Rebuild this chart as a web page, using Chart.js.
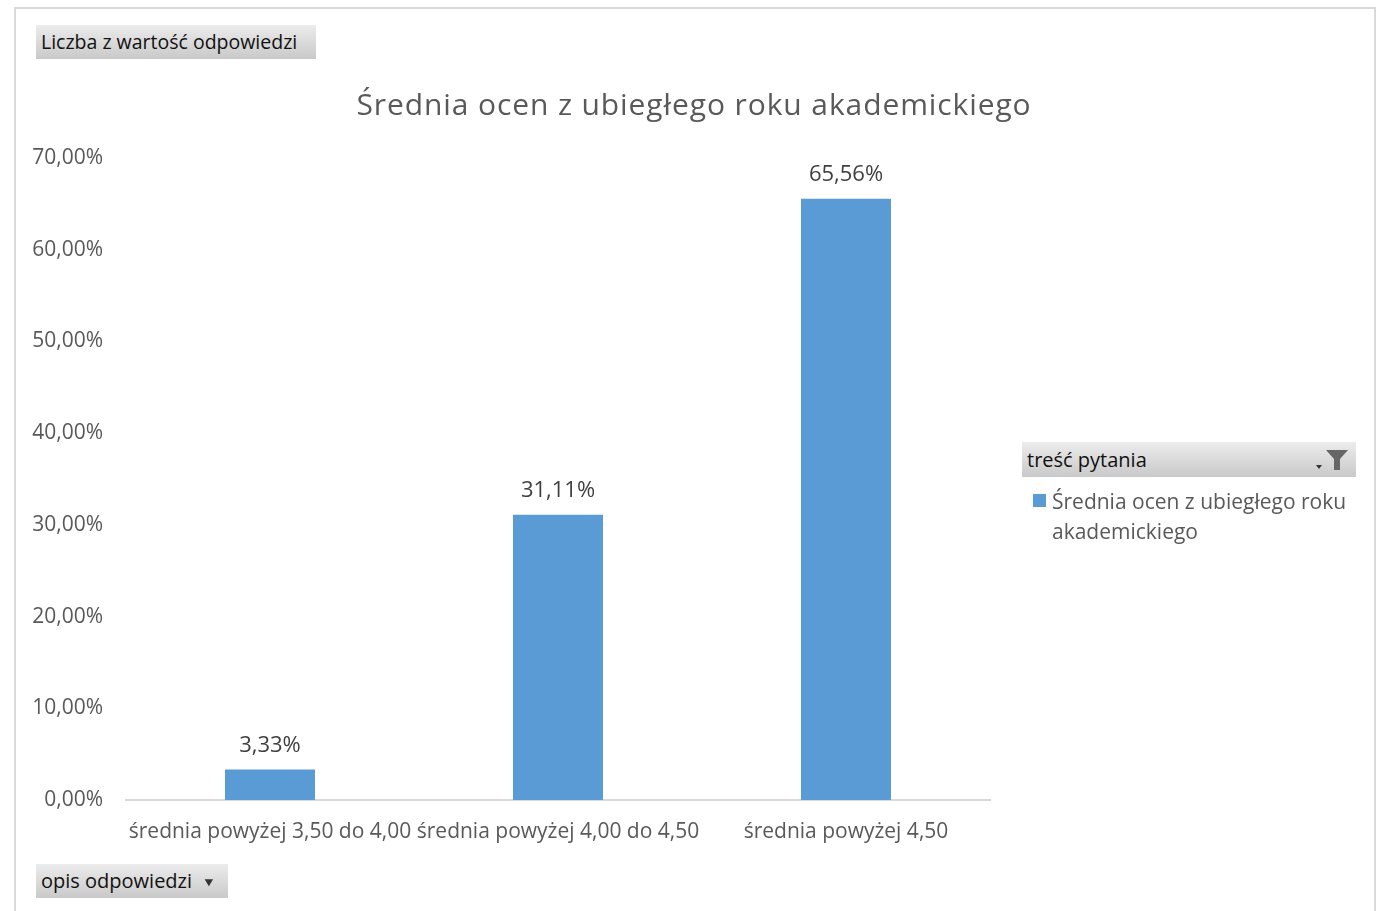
<!DOCTYPE html>
<html><head><meta charset="utf-8">
<script src="https://cdn.jsdelivr.net/npm/chart.js@4.4.1/dist/chart.umd.min.js"></script>
<style>
html,body{margin:0;padding:0;background:#fff;width:1384px;height:911px;overflow:hidden;font-family:"Open Sans",sans-serif;}
#frame{position:absolute;left:14px;top:7px;width:1362px;height:920px;border:2px solid #d9d9d9;box-sizing:border-box;}
#wrap{position:absolute;left:0;top:0;width:1384px;height:911px;}
.btn{position:absolute;background:linear-gradient(#ececec,#c9c9c9);color:#111;font-size:19.5px;line-height:34px;padding-left:5px;box-sizing:border-box;}
#title{position:absolute;left:0;width:1388px;top:83px;text-align:center;font-size:30px;letter-spacing:0.9px;color:#595959;}
#leg{position:absolute;left:1033px;top:486px;width:340px;font-size:21px;color:#595959;line-height:30px;}
#leg .sw{position:absolute;left:0;top:8px;width:13px;height:13px;background:#5B9BD5;}
#leg .tx{margin-left:19px;}
</style></head>
<body>
<div id="frame"></div>
<div id="wrap"><canvas id="c" width="1384" height="911"></canvas></div>
<div id="title">Średnia ocen z ubiegłego roku akademickiego</div>
<div class="btn" style="left:36px;top:25px;width:280px;height:34px;">Liczba z wartość odpowiedzi</div>
<div class="btn" style="left:36px;top:864px;width:192px;height:34px;font-size:20px;">opis odpowiedzi<span style="position:absolute;left:167px;top:1px;font-size:12px;color:#333;transform:scaleX(1.2);">&#9660;</span></div>
<div class="btn" style="left:1022px;top:442px;width:334px;height:35px;line-height:35px;font-size:20px;">treść pytania
<svg style="position:absolute;left:292px;top:6px" width="36" height="24" viewBox="0 0 36 24"><path d="M12 2 L34 2 L26 11 L26 22 L20 22 L20 11 Z" fill="#666"/><path d="M2 17 L8 17 L5 21 Z" fill="#333"/></svg></div>
<div id="leg"><div class="sw"></div><div class="tx">Średnia ocen z ubiegłego roku<br>akademickiego</div></div>
<script>
const categories = ["średnia powyżej 3,50 do 4,00", "średnia powyżej 4,00 do 4,50", "średnia powyżej 4,50"];
const seriesName = "Średnia ocen z ubiegłego roku akademickiego";
const values = [3.33, 31.11, 65.56];
const yTicks = [0, 10, 20, 30, 40, 50, 60, 70];

const fmt = v => v.toFixed(2).replace('.', ',') + '%';

const labelPlugin = {
  id: 'barLabels',
  afterDatasetsDraw(chart) {
    const ctx = chart.ctx;
    const meta = chart.getDatasetMeta(0);
    ctx.save();
    ctx.font = '22px "Open Sans", sans-serif';
    ctx.fillStyle = '#404040';
    ctx.textAlign = 'center';
    ctx.textBaseline = 'middle';
    meta.data.forEach((bar, i) => {
      ctx.fillText(fmt(values[i]), bar.x, bar.y - 24);
    });
    ctx.restore();
  }
};

new Chart(document.getElementById('c'), {
  type: 'bar',
  data: {
    labels: categories,
    datasets: [{
      label: seriesName,
      data: values,
      backgroundColor: '#5B9BD5',
      borderWidth: 0,
      categoryPercentage: 1.0,
      barPercentage: 0.3125
    }]
  },
  options: {
    responsive: false,
    animation: false,
    devicePixelRatio: 1,
    layout: { padding: { left: 0, right: 394, top: 158, bottom: 0 } },
    plugins: { legend: { display: false }, title: { display: false }, tooltip: { enabled: false } },
    scales: {
      y: {
        min: 0, max: 70,
        afterBuildTicks: s => { s.ticks = yTicks.map(v => ({ value: v })); },
        afterFit: s => { s.width = 126; },
        grid: { display: false, drawTicks: false },
        border: { display: false },
        ticks: {
          padding: 23,
          color: '#595959',
          font: { family: '"Open Sans", sans-serif', size: 21 },
          callback: v => fmt(v)
        }
      },
      x: {
        afterFit: s => { s.height = 111; },
        grid: { display: false, drawTicks: false },
        border: { display: true, color: '#d9d9d9', width: 2 },
        ticks: {
          padding: 19,
          autoSkip: false,
          maxRotation: 0,
          minRotation: 0,
          color: '#595959',
          font: { family: '"Open Sans", sans-serif', size: 21 }
        }
      }
    }
  },
  plugins: [labelPlugin]
});
</script>
</body></html>
